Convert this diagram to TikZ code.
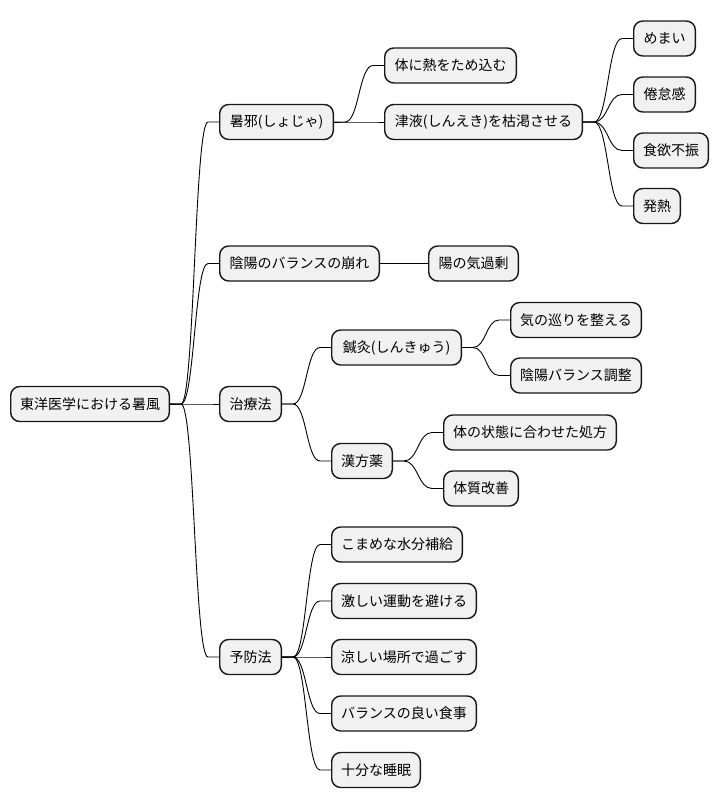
\documentclass[tikz,border=0pt]{standalone}
\usepackage{fontspec}
\newfontfamily\jpfont{Noto Sans CJK JP}
\usetikzlibrary{calc}
\definecolor{boxfill}{HTML}{F1F1F1}
\definecolor{boxline}{HTML}{181818}
\tikzset{
  mm/.style={draw=boxline, fill=boxfill, line width=1.4pt, rounded corners=9pt,
    minimum height=35pt, inner sep=0pt, font=\jpfont\fontsize{14}{16}\selectfont, text=black},
  conn/.style={draw=black, line width=0.9pt}
}
\newcommand{\mmconn}[2]{%
  \path (#1.east) ++(11,0) coordinate (tmpa);
  \path (#2.west) ++(-11,0) coordinate (tmpb);
  \draw[conn] (#1.east) -- (tmpa) .. controls ($(tmpa)!0.5!(tmpb|-tmpa)$) and ($(tmpb)!0.5!(tmpa|-tmpb)$) .. (tmpb) -- (#2.west);
}
\newcommand{\mmnode}[5]{% name, left, width, cy, text
  \node[mm, minimum width={#3pt-1.4pt}] (#1) at ({#2+#3/2}, #4) {#5};
}
\begin{document}
\begin{tikzpicture}[x=1pt, y=-1pt]
\useasboundingbox (0,0) rectangle (720,809);
% root
\mmnode{root}{10}{160}{404}{東洋医学における暑風}
% level 1
\mmnode{shoja}{219}{115}{122}{暑邪(しょじゃ)}
\mmnode{inyo}{219}{161}{263.5}{陰陽のバランスの崩れ}
\mmnode{chiryo}{219}{63}{404}{治療法}
\mmnode{yobo}{219}{63}{657}{予防法}
% level 2
\mmnode{netsu}{384}{133}{65.5}{体に熱をため込む}
\mmnode{shineki}{384}{199}{122}{津液(しんえき)を枯渇させる}
\mmnode{yonoki}{428}{91}{263.5}{陽の気過剰}
\mmnode{shinkyu}{331}{131}{347.5}{鍼灸(しんきゅう)}
\mmnode{kampo}{331}{62}{461}{漢方薬}
\mmnode{komame}{331}{132}{544.5}{こまめな水分補給}
\mmnode{hageshii}{331}{146}{601}{激しい運動を避ける}
\mmnode{suzushii}{331}{146}{657}{涼しい場所で過ごす}
\mmnode{balance}{331}{146}{713.5}{バランスの良い食事}
\mmnode{suimin}{331}{90}{770}{十分な睡眠}
% level 3
\mmnode{memai}{633}{63}{38.5}{めまい}
\mmnode{kentai}{633}{63}{94.5}{倦怠感}
\mmnode{shokuyoku}{633}{76}{150.5}{食欲不振}
\mmnode{hatsunetsu}{633}{48}{206}{発熱}
\mmnode{kinomeguri}{510}{132}{320}{気の巡りを整える}
\mmnode{inyochosei}{510}{132}{375.5}{陰陽バランス調整}
\mmnode{shoho}{443}{174}{432.5}{体の状態に合わせた処方}
\mmnode{taishitsu}{443}{76}{488.5}{体質改善}
% connectors
\mmconn{root}{shoja}
\mmconn{root}{inyo}
\mmconn{root}{chiryo}
\mmconn{root}{yobo}
\mmconn{shoja}{netsu}
\mmconn{shoja}{shineki}
\mmconn{shineki}{memai}
\mmconn{shineki}{kentai}
\mmconn{shineki}{shokuyoku}
\mmconn{shineki}{hatsunetsu}
\mmconn{inyo}{yonoki}
\mmconn{chiryo}{shinkyu}
\mmconn{chiryo}{kampo}
\mmconn{shinkyu}{kinomeguri}
\mmconn{shinkyu}{inyochosei}
\mmconn{kampo}{shoho}
\mmconn{kampo}{taishitsu}
\mmconn{yobo}{komame}
\mmconn{yobo}{hageshii}
\mmconn{yobo}{suzushii}
\mmconn{yobo}{balance}
\mmconn{yobo}{suimin}
\end{tikzpicture}
\end{document}
